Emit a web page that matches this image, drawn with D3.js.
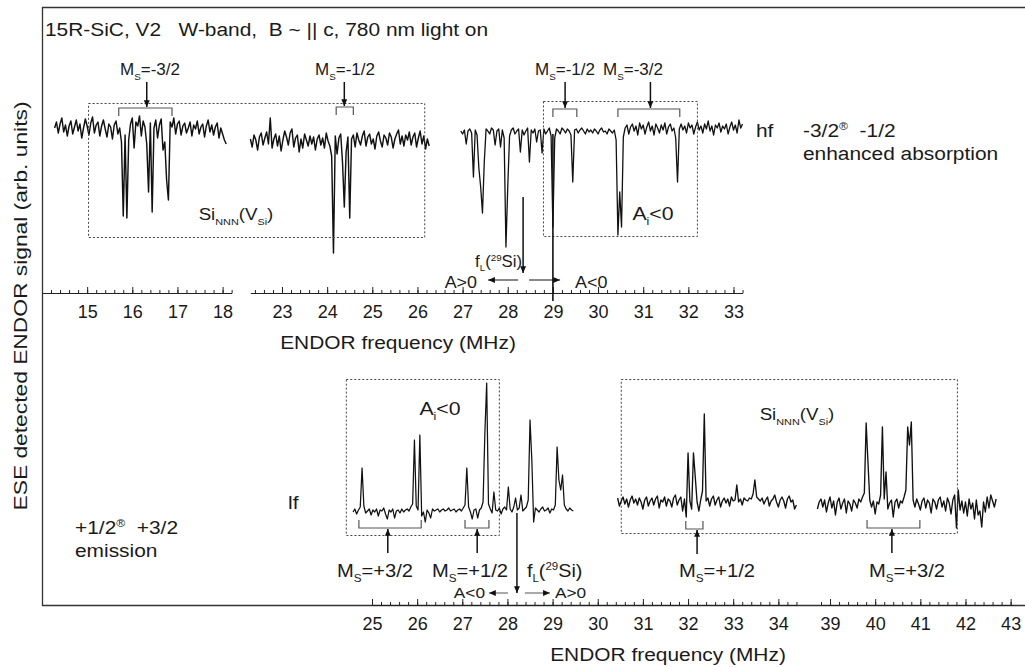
<!DOCTYPE html>
<html><head><meta charset="utf-8">
<script src="https://cdn.jsdelivr.net/npm/d3@7"></script>
<style>
body{margin:0;background:#fff}
svg{display:block}
text{font-family:"Liberation Sans",Arial,Helvetica,sans-serif;fill:#1a1a1a;white-space:pre}
</style>
</head><body>
<svg id="chart" width="1025" height="667"></svg>
<script>
// ---------------- DATA ----------------
const sampleStep = 0.04; // MHz between recorded points

// hf spectra (upper panel), signal in arb. units, dips negative
const hf1Start = 14.28;
const hf1Values = [2,8,-3,6,12,-2,5,-6,4,9, -4,3,10,-1,6,-8,2,11,4,-5, 7,13,-3,5,8,-6,4,10,1,-7, 6,3,-9,5,9,-4,2,-12,-86,-5,
  -88,-10,6,12,-18,8,4,14,-6,9, 3,-14,-62,7,-82,2,10,-8,5,11, -20,-12,-50,-70,8,3,12,-4,6,9, -5,4,7,-3,2,8,-6,5,1,9,
  -4,3,6,-7,4,10,-2,5,-5,3, 7,-8,2,-4,-10,-14];
const hf2Start = 22.30;
const hf2Values = [3,-5,7,2,-8,5,9,-3,4,10, -2,24,-6,3,8,-4,6,-9,2,11, 5,-3,9,13,-5,4,7,-10,3,-6, 8,2,-4,6,-2,5,-8,3,7,-3,
  4,-6,9,1,-4,-14,-111,6,-12,4, 8,-20,-65,-10,5,-76,3,7,-5,9, 2,-3,6,11,-4,5,8,-2,3,-7, 6,10,1,-5,7,4,-3,9,5,-6,
  3,8,12,-2,6,-4,7,2,10,-3, 5,9,-5,4,11,-2,6,-7,3,-4];
const hf3Start = 26.96;
const hf3Values = [1,-2,2,-12,1,3,-1,-45,2,-3, -36,-55,-81,-30,3,1,-2,4,2,-13, 1,3,-15,2,-6,-115,-55,-4,2,4, -2,1,3,-20,2,-3,1,4,-30,2,
  -1,3,-10,1,2,-21,3,-2,1,4, -4,-95,-6,3,1,-2,4,2,-1,3, 1,-3,-50,2,3,-1,2,4,1,-2, 3,0,2,-1,3,1,-2,2,4,0,
  1,-2,3,1,-1,2,-8,-103,-60,-95, -5,4,7,-2,5,8,1,6,-3,9, 3,7,-2,5,10,1,6,-3,8,4, -1,7,2,9,-2,5,8,1,4,-6,
  -50,3,8,2,6,-1,9,4,7,-2, 5,10,2,6,-1,8,3,11,1,6, -3,7,4,9,0,6,3,8,-2,5, 10,2,7,-1,12,4,8];

// lf spectra (lower panel), emission peaks positive
const lf1Start = 24.58;
const lf1Values = [-2,1,-4,0,3,42,4,-3,-1,1, -5,0,-2,1,-6,0,-1,2,-4,-9, 0,-2,1,-8,-1,0,-3,1,-2,0, 1,-1,3,6,70,4,0,75,-6,-2,
  -12,0,-3,-8,1,-1,0,1,-2,0, 1,-1,0,2,-1,0,1,-2,0,1, -1,2,5,42,3,-2,-9,0,1,-8, 0,2,8,77,127,6,1,-3,18,0,
  -1,2,-4,1,3,0,23,1,-2,3, 12,0,2,15,-1,1,3,10,90,50, -12,2,0,-2,1,3,-1,0,2,-3, 1,0,5,63,30,20,35,5,1,-1, 2,0,-1];
const lf2Start = 30.44;
const lf2Values = [5,-3,2,6,-1,4,-4,3,7,0, 4,-2,5,1,-6,3,6,-3,2,5, -2,4,7,-5,3,1,6,-3,4,2, -4,5,8,-2,3,6,-8,4,-14,50,
  2,-6,50,26,1,-8,3,12,89,2, 5,-3,4,7,-2,3,6,-4,2,5, 0,4,-3,6,2,3,18,1,4,-2, 5,3,2,5,4,9,23,6,4,2,
  5,-1,3,6,-3,2,4,8,1,-4, 3,6,2,-5,4,7,1,3,-6,-2];
const lf3Start = 38.72;
const lf3Values = [-4,3,6,-2,5,-7,2,8,-3,4, -10,3,7,-4,2,6,-8,4,1,-6, 5,2,-3,6,3,8,12,82,43,5, -2,4,-9,3,1,10,78,6,33,-4,
  2,5,-12,3,6,-3,4,2,8,15, 78,60,83,5,-2,6,1,-5,4,7, -3,5,2,-8,6,3,-4,5,8,-2, 4,-6,7,2,-9,5,10,-23,15,-5,
  4,-8,3,-11,6,-4,2,-14,5,-10, -6,-22,3,-7,8,-3,10,4,-2,6];

// tick labels (MHz)
const topTicksA = [15,16,17,18];
const topTicksB = [23,24,25,26,27,28,29,30,31,32,33];
const botTicksA = [25,26,27,28,29,30,31,32,33,34];
const botTicksB = [39,40,41,42,43];

// annotation frequencies (MHz)
const larmorTop = 28.34, larmorBot = 28.21, markTop = 29.0;

// ---------------- LAYOUT ----------------
const svg = d3.select("#chart");
const k = 45.15; // px per MHz
function seg(d0, d1, x0){ return d3.scaleLinear().domain([d0,d1]).range([x0, x0+(d1-d0)*k]); }
const xT1 = seg(14.0, 18.2, 42);
const xT2 = seg(22.3, 33.2, 250.4);
const xBA = seg(25.0, 34.4, 372);
const xBB = seg(38.8, 43.05, 821);
const yTopAxis = 293, yBotAxis = 605;

const defs = svg.append("defs");
defs.append("marker").attr("id","ah").attr("viewBox","0 0 8 7").attr("refX",8).attr("refY",3.5)
  .attr("markerWidth",7).attr("markerHeight",6).attr("markerUnits","userSpaceOnUse").attr("orient","auto")
  .append("path").attr("d","M0,0L8,3.5L0,7Z").attr("fill","#111");

// frame
svg.append("path").attr("d","M1025,7.5H42.5V605.5H1025").attr("fill","none").attr("stroke","#333").attr("stroke-width",1.3);

// text helper with sub/superscripts and horizontal stretch
function rich(x, y, parts, size, anchor, sx){
  const g = svg.append("g").attr("transform",`translate(${x},${y}) scale(${sx||1},1)`);
  const t = g.append("text").attr("x",0).attr("y",0).attr("font-size",size).attr("text-anchor",anchor||"start");
  let shift = 0;
  parts.forEach(p => {
    const s = typeof p === "string" ? p : p[0];
    const kind = typeof p === "string" ? "n" : p[1];
    const target = kind === "sub" ? size*0.28 : kind === "sup" ? -size*0.38 : 0;
    const ts = t.append("tspan").text(s).attr("dy", target - shift);
    if (kind !== "n") ts.attr("font-size", size*0.58);
    shift = target;
  });
  return t;
}

// axes
function drawAxis(scale, y, labels, minorFrom, minorTo){
  const minor = d3.range(Math.round(minorFrom*5), Math.round(minorTo*5)+1).map(v=>v/5);
  const gMin = svg.append("g").attr("transform",`translate(0,${y})`)
    .call(d3.axisBottom(scale).tickValues(minor).tickSizeInner(-3).tickSizeOuter(0).tickFormat(""));
  const gMaj = svg.append("g").attr("transform",`translate(0,${y})`)
    .call(d3.axisBottom(scale).tickValues(labels).tickSizeInner(-6).tickSizeOuter(0).tickPadding(12).tickFormat(d3.format("d")));
  [gMin,gMaj].forEach(g=>{ g.selectAll("path,line").attr("stroke","#222").attr("stroke-width",1); });
  gMaj.selectAll("text").attr("font-size",18).attr("fill","#1a1a1a").attr("font-family",'"Liberation Sans",Arial,sans-serif').attr("dy","0.71em");
}
drawAxis(xT1, yTopAxis, topTicksA, 14.2, 18.2);
drawAxis(xT2, yTopAxis, topTicksB, 22.4, 33.2);
drawAxis(xBA, yBotAxis, botTicksA, 25.0, 34.4);
drawAxis(xBB, yBotAxis, botTicksB, 38.8, 43.0);

// traces
const traces = [
  {start:hf1Start, vals:hf1Values, x:xT1, base:130, w:1.45},
  {start:hf2Start, vals:hf2Values, x:xT2, base:142, w:1.45},
  {start:hf3Start, vals:hf3Values, x:xT2, base:132, w:1.3},
  {start:lf1Start, vals:lf1Values, x:xBA, base:510, w:1.25},
  {start:lf2Start, vals:lf2Values, x:xBA, base:503, w:1.35},
  {start:lf3Start, vals:lf3Values, x:xBB, base:505, w:1.35}
];
traces.forEach(t => {
  const y = d3.scaleLinear().domain([-100,100]).range([t.base+100, t.base-100]);
  const pts = t.vals.map((v,i)=>({f:t.start+i*sampleStep, v}));
  svg.append("path").datum(pts).attr("fill","none").attr("stroke","#111").attr("stroke-width",t.w)
    .attr("stroke-linejoin","round")
    .attr("d", d3.line().x(d=>t.x(d.f)).y(d=>y(d.v)));
});

// dashed boxes
const boxes = [
  {x0:xT1(15.02), x1:xT2(26.15), y0:103, y1:237},
  {x0:xT2(28.78), x1:xT2(32.19), y0:101, y1:236},
  {x0:xBA(24.42), x1:xBA(27.81), y0:379, y1:535},
  {x0:xBA(30.51), x1:xBB(41.81), y0:379, y1:533}
];
boxes.forEach(b=>{
  svg.append("rect").attr("x",b.x0+0.5).attr("y",b.y0+0.5).attr("width",b.x1-b.x0).attr("height",b.y1-b.y0)
    .attr("fill","none").attr("stroke","#444").attr("stroke-width",1).attr("stroke-dasharray","2,2");
});

// brackets with arrows
const brackets = [
  {x:xT1, a:15.70, b:16.88, m:16.32, y:108, dir:1, label:"-3/2"},
  {x:xT2, a:24.20, b:24.58, m:24.38, y:107, dir:1, label:"-1/2"},
  {x:xT2, a:29.00, b:29.53, m:29.27, y:109, dir:1, label:"-1/2"},
  {x:xT2, a:30.44, b:31.81, m:31.16, y:109, dir:1, label:"-3/2"},
  {x:xBA, a:24.71, b:26.09, m:25.35, y:528, dir:-1, label:"+3/2"},
  {x:xBA, a:27.06, b:27.59, m:27.33, y:528, dir:-1, label:"+1/2"},
  {x:xBA, a:31.95, b:32.33, m:32.20, y:529, dir:-1, label:"+1/2"},
  {x:xBB, a:39.82, b:40.99, m:40.37, y:528, dir:-1, label:"+3/2"}
];
const labelX = [150, 345, 565, 633, 375, 470, 717, 907];
brackets.forEach((br,i)=>{
  const xa = br.x(br.a), xb = br.x(br.b), xm = br.x(br.m);
  svg.append("path").attr("d",`M${xa},${br.y+8*br.dir}V${br.y}H${xb}V${br.y+8*br.dir}`)
    .attr("fill","none").attr("stroke","#555").attr("stroke-width",1.2);
  const yA = br.dir>0 ? 82 : br.y+25;
  svg.append("line").attr("x1",xm).attr("x2",xm).attr("y1",yA).attr("y2",br.y-1*br.dir)
    .attr("stroke","#111").attr("stroke-width",1.5).attr("marker-end","url(#ah)");
  if (br.dir>0) rich(labelX[i], 75, ["M",["S","sub"],"="+br.label], 17, "middle", 1.0);
  else rich(labelX[i], 577, ["M",["S","sub"],"="+br.label], 18, "middle", 1.12);
});

// Larmor arrows and sign arrows
svg.append("line").attr("x1",xT2(larmorTop)).attr("x2",xT2(larmorTop)).attr("y1",197).attr("y2",273)
  .attr("stroke","#111").attr("stroke-width",1.5).attr("marker-end","url(#ah)");
svg.append("line").attr("x1",xT2(markTop)).attr("x2",xT2(markTop)).attr("y1",134).attr("y2",301)
  .attr("stroke","#111").attr("stroke-width",1.6);
svg.append("line").attr("x1",xT2(larmorTop)-5).attr("x2",xT2(larmorTop)-35).attr("y1",280).attr("y2",280)
  .attr("stroke","#111").attr("stroke-width",1).attr("marker-end","url(#ah)");
svg.append("line").attr("x1",xT2(larmorTop)+6).attr("x2",xT2(larmorTop)+37).attr("y1",280).attr("y2",280)
  .attr("stroke","#111").attr("stroke-width",1).attr("marker-end","url(#ah)");
rich(xT2(larmorTop)-1, 267, ["f",["L","sub"],"(",["29","sup"],"Si)"], 16, "end", 1.05);
rich(477, 288, ["A>0"], 16, "end", 1.12);
rich(575, 288, ["A<0"], 16, "start", 1.12);

svg.append("line").attr("x1",xBA(larmorBot)).attr("x2",xBA(larmorBot)).attr("y1",513).attr("y2",593)
  .attr("stroke","#111").attr("stroke-width",1.5).attr("marker-end","url(#ah)");
svg.append("line").attr("x1",xBA(larmorBot)-9).attr("x2",xBA(larmorBot)-28).attr("y1",593).attr("y2",593)
  .attr("stroke","#555").attr("stroke-width",1).attr("marker-end","url(#ah)");
svg.append("line").attr("x1",xBA(larmorBot)+8).attr("x2",xBA(larmorBot)+33).attr("y1",593).attr("y2",593)
  .attr("stroke","#555").attr("stroke-width",1).attr("marker-end","url(#ah)");
rich(xBA(larmorBot)+10, 577, ["f",["L","sub"],"(",["29","sup"],"Si)"], 18, "start", 1.1);
rich(485, 598, ["A<0"], 15, "end", 1.15);
rich(555, 598, ["A>0"], 15, "start", 1.15);

// region labels
rich(236, 220, ["Si",["NNN","sub"],"(V",["Si","sub"],")"], 17, "middle", 1.1);
rich(653, 220, ["A",["i","sub"],"<0"], 19, "middle", 1.12);
rich(440, 415, ["A",["i","sub"],"<0"], 19, "middle", 1.12);
rich(797, 420, ["Si",["NNN","sub"],"(V",["Si","sub"],")"], 17, "middle", 1.1);

// side texts
rich(45, 36, ["15R-SiC, V2   W-band,  B ~ || c, 780 nm light on"], 19, "start", 1.1);
rich(756, 137, ["hf"], 19, "start", 1.1);
rich(803, 137, ["-3/2",["®","sup"],"  -1/2"], 19, "start", 1.1);
rich(803, 160, ["enhanced absorption"], 19, "start", 1.1);
rich(288, 509, ["lf"], 19, "start", 1.1);
rich(75, 534, ["+1/2",["®","sup"],"  +3/2"], 19, "start", 1.1);
rich(75, 557, ["emission"], 19, "start", 1.1);

// axis titles
rich(398, 349, ["ENDOR frequency (MHz)"], 19, "middle", 1.1);
rich(668, 661, ["ENDOR frequency (MHz)"], 19, "middle", 1.1);
svg.append("text").attr("transform","translate(27,306) rotate(-90) scale(1.2,1)").attr("text-anchor","middle")
  .attr("font-size",19).text("ESE detected ENDOR signal (arb. units)");
</script>
</body></html>
